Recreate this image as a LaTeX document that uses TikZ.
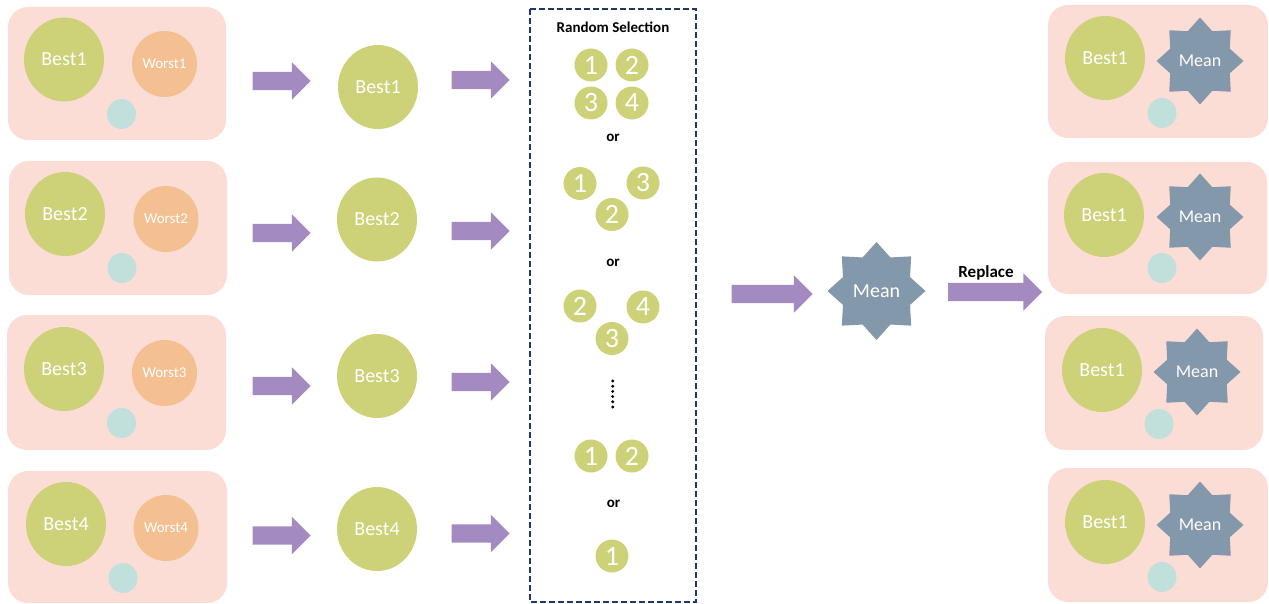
\documentclass[tikz,border=0pt]{standalone}
\usepackage{fontspec}
\setmainfont{Carlito}
\usetikzlibrary{shapes.geometric,shapes.arrows}
\definecolor{boxpink}{HTML}{FBDDD6}
\definecolor{bestgreen}{HTML}{CDD278}
\definecolor{worstorange}{HTML}{F4BF91}
\definecolor{tealc}{HTML}{C1E0DC}
\definecolor{arrowpurple}{HTML}{A38BC2}
\definecolor{meangray}{HTML}{8398AB}
\definecolor{navyc}{HTML}{1F3864}
\tikzset{
  panel/.style={fill=boxpink, rounded corners=20pt, draw=none},
  best/.style={ellipse, fill=bestgreen, text=white, minimum width=80pt, minimum height=84pt, inner sep=0pt, font=\fontsize{20}{22}\selectfont},
  worst/.style={ellipse, fill=worstorange, text=white, minimum width=65pt, minimum height=66pt, inner sep=0pt, font=\fontsize{15}{16}\selectfont},
  tealdot/.style={ellipse, fill=tealc, minimum width=29pt, minimum height=30pt, inner sep=0pt},
  num/.style={circle, fill=bestgreen, text=white, minimum size=33pt, inner sep=0pt, font=\fontsize{28}{28}\selectfont},
  meanstar/.style={star, star points=8, star point ratio=1.35, fill=meangray, text=white, inner sep=0pt, minimum size=87pt, font=\fontsize{18}{20}\selectfont},
  blockarrow/.style={single arrow, fill=arrowpurple, draw=none, single arrow head extend=9.5pt, inner xsep=0pt, inner ysep=9pt, minimum height=58pt},
  lbl/.style={font=\bfseries\fontsize{15}{16}\selectfont, inner sep=0pt},
}
\begin{document}
\begin{tikzpicture}[x=1pt,y=-1pt]
\useasboundingbox (0,0) rectangle (1269,604);
% left panels
\fill[panel] (8,7) rectangle (226,140);
\fill[panel] (9,161) rectangle (227,295);
\fill[panel] (7,315) rectangle (226,450);
\fill[panel] (8,471) rectangle (227,603);
\node[best] (lb1) at (64,59.5) {Best1};
\node[worst] (lw1) at (164.5,64) {Worst1};
\node[tealdot] (lt1) at (121.5,114) {};
\node[best] (lb2) at (65,214) {Best2};
\node[worst] (lw2) at (166,219) {Worst2};
\node[tealdot] (lt2) at (122,268) {};
\node[best] (lb3) at (64,369) {Best3};
\node[worst] (lw3) at (164.5,373) {Worst3};
\node[tealdot] (lt3) at (121.5,423) {};
\node[best] (lb4) at (66,524) {Best4};
\node[worst] (lw4) at (166,528) {Worst4};
\node[tealdot] (lt4) at (123,578) {};
% first arrows
\node[blockarrow] (a1) at (277,81) {};
\node[blockarrow] (a2) at (277,233) {};
\node[blockarrow] (a3) at (277,386) {};
\node[blockarrow] (a4) at (277,535.5) {};
% middle bests
\node[best] (mb1) at (378,87) {Best1};
\node[best] (mb2) at (377,219.5) {Best2};
\node[best] (mb3) at (377,376) {Best3};
\node[best] (mb4) at (377,529) {Best4};
% second arrows
\node[blockarrow] (b1) at (476,80) {};
\node[blockarrow] (b2) at (476,231) {};
\node[blockarrow] (b3) at (476,382) {};
\node[blockarrow] (b4) at (476,533.5) {};
% selection box
\draw[navyc, line width=1.8pt, dash pattern=on 6pt off 3pt] (530,9) rectangle (696,602);
\node[lbl] (rs) at (613,27) {Random Selection};
\node[num] (g1a) at (591,65) {1};
\node[num] (g1b) at (632,65) {2};
\node[num] (g1c) at (591,103) {3};
\node[num] (g1d) at (632,103) {4};
\node[lbl] (or1) at (613,138) {or};
\node[num] (g2a) at (580,183.5) {1};
\node[num] (g2b) at (643,183) {3};
\node[num] (g2c) at (612,214.5) {2};
\node[lbl] (or2) at (613,263) {or};
\node[num] (g3a) at (580,306) {2};
\node[num] (g3b) at (643,307) {4};
\node[num] (g3c) at (612,338.5) {3};
\foreach \yy in {381,386.2,391.4,396.6,401.8,407}
  \fill (612.7,\yy) circle (1.6pt);
\node[num] (g4a) at (591,456) {1};
\node[num] (g4b) at (632,456) {2};
\node[lbl] (or3) at (613.5,504) {or};
\node[num] (g5a) at (612,556) {1};
% center
\node[blockarrow, minimum height=81pt] (c1) at (767.5,294) {};
\node[meanstar, minimum size=98pt, font=\fontsize{20}{22}\selectfont] (mean) at (876.5,291) {Mean};
\node[blockarrow, minimum height=94pt] (c2) at (990.5,292) {};
\node[lbl, font=\bfseries\fontsize{17}{18}\selectfont] (rep) at (986,273) {Replace};
% right panels
\fill[panel] (1048,5) rectangle (1268,138);
\fill[panel] (1048,162) rectangle (1267,294);
\fill[panel] (1045,316) rectangle (1263,450);
\fill[panel] (1048,468) rectangle (1268,602);
\node[best] (rb1) at (1105,58) {Best1};
\node[meanstar] (rm1) at (1200,61) {Mean};
\node[tealdot] (rt1) at (1162,113) {};
\node[best] (rb2) at (1104,215) {Best1};
\node[meanstar] (rm2) at (1200,217) {Mean};
\node[tealdot] (rt2) at (1162,268) {};
\node[best] (rb3) at (1102,370) {Best1};
\node[meanstar] (rm3) at (1197,372) {Mean};
\node[tealdot] (rt3) at (1159,424) {};
\node[best] (rb4) at (1105,522) {Best1};
\node[meanstar] (rm4) at (1200,525) {Mean};
\node[tealdot] (rt4) at (1162,577) {};
\end{tikzpicture}
\end{document}
